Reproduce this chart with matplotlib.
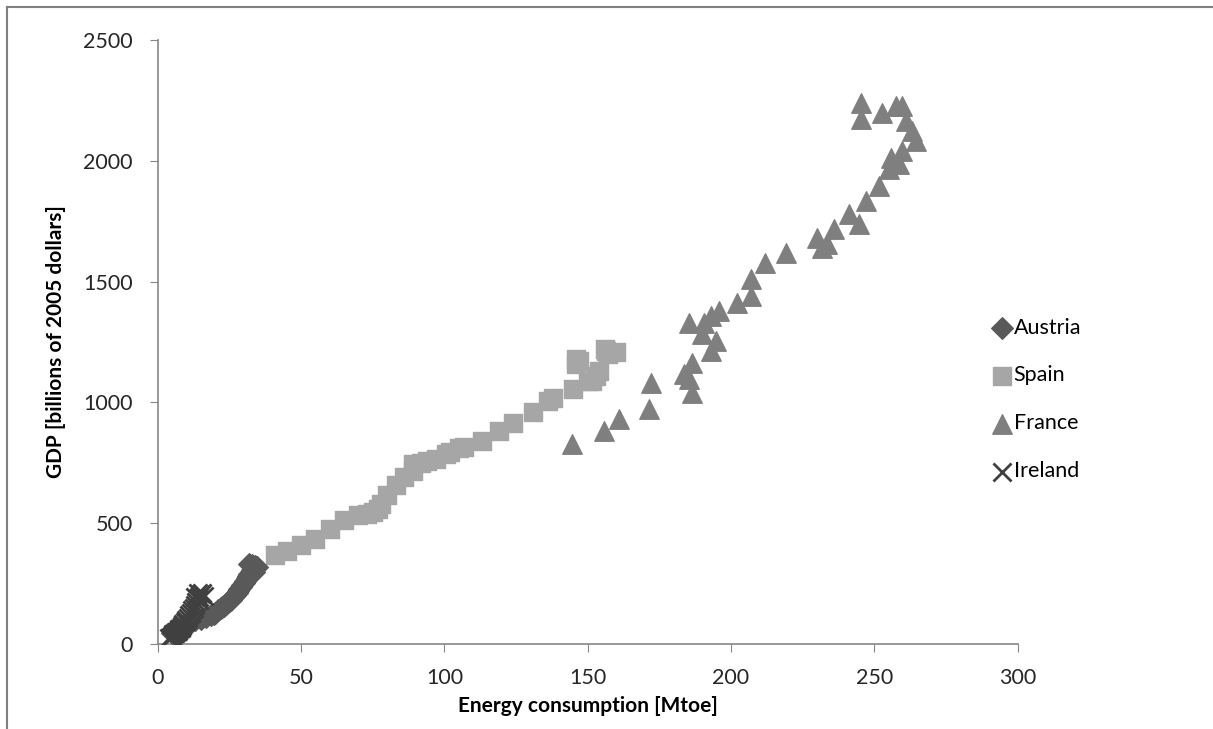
import matplotlib.pyplot as plt
from matplotlib.lines import Line2D

# Energy consumption [Mtoe] vs GDP [billions of 2005 dollars]
austria_energy = [5, 7, 9, 11, 13, 15, 17, 18.5, 19.5, 20, 21, 22, 22.5, 23, 24, 24.5, 25, 25.5,
                  26, 26.5, 27, 27.5, 28, 28.5, 29, 29.5, 30, 30.5, 31, 31.5, 32, 32.5, 33,
                  33.5, 34, 33, 32, 34.5, 33.5]
austria_gdp = [45, 60, 75, 88, 98, 105, 112, 118, 125, 130, 140, 148, 152, 158, 165, 172, 178, 183,
               190, 197, 203, 210, 218, 226, 235, 243, 252, 262, 272, 282, 290, 298, 306,
               315, 322, 328, 330, 318, 300]

spain_energy = [41, 45, 50, 55, 60, 65, 70, 73, 75, 77, 78, 80, 83, 86, 89, 89, 92, 94, 97,
                100.5, 102, 105, 107, 113, 119, 124, 131, 136, 138, 145, 146, 146, 147, 150,
                151.5, 153, 154, 156, 156.5, 157, 160]
spain_gdp = [370, 385, 410, 435, 475, 515, 535, 540, 545, 560, 580, 615, 660, 690, 715, 745, 750,
             757, 765, 786, 795, 811, 815, 840, 880, 915, 962, 1005, 1020, 1055, 1180, 1160,
             1172, 1090, 1089, 1110, 1130, 1220, 1213, 1200, 1210]

france_energy = [144.6, 155.7, 161, 171.4, 172, 183.6, 186.4, 185.4, 186.4, 193, 194.8, 190, 185.4,
                 190.6, 193, 195.8, 202, 207, 207, 212, 219, 230, 231.7, 233.4, 236, 241, 244.6,
                 247, 251.6, 255, 255.7, 258.5, 259.6, 263, 264.5, 261, 259.6, 257.5, 252.6,
                 245.3, 245.3]
france_gdp = [828, 882, 932, 973, 1081, 1118, 1039, 1097, 1163, 1213, 1254, 1283, 1329, 1329, 1358,
              1379, 1412, 1441, 1511, 1577, 1619, 1681, 1639, 1656, 1718, 1780, 1739, 1834, 1896,
              1966, 2012, 1987, 2041, 2124, 2082, 2165, 2227, 2227, 2198, 2240, 2173]

ireland_energy = [4, 4.5, 5, 5.5, 6, 6.5, 7, 7.5, 8, 8.5, 9, 9.5, 10, 10.5, 11, 11.5, 12, 12.5,
                  13, 13.5, 14, 14.5, 15, 15.5, 13, 14, 16, 14.5]
ireland_gdp = [25, 30, 35, 40, 45, 50, 55, 62, 68, 75, 82, 90, 98, 108, 118, 128, 140, 150,
               160, 172, 185, 195, 205, 210, 195, 212, 198, 182]

plt.rcParams['font.family'] = ['Lato', 'DejaVu Sans']

fig = plt.figure(figsize=(12.13, 7.29), dpi=100)
ax = fig.add_axes([0.130, 0.1166, 0.709, 0.8285])

ax.scatter(austria_energy, austria_gdp, marker='D', s=11**2, c='#595959', label='Austria', zorder=3)
ax.scatter(spain_energy, spain_gdp, marker='s', s=13**2, c='#a6a6a6', label='Spain', zorder=2)
ax.scatter(france_energy, france_gdp, marker='^', s=14**2, c='#7f7f7f', label='France', zorder=2)
ax.scatter(ireland_energy, ireland_gdp, marker='x', s=13**2, c='#404040', linewidths=2,
           label='Ireland', zorder=4)

ax.set_xlim(0, 300)
ax.set_ylim(0, 2500)
ax.set_xticks(range(0, 301, 50))
ax.set_yticks(range(0, 2501, 500))
ax.tick_params(labelsize=15.5, color='#868686', length=6, labelcolor='#262626')
ax.tick_params(axis='x', pad=11)
ax.tick_params(axis='y', pad=12)
for side in ['top', 'right']:
    ax.spines[side].set_visible(False)
for side in ['left', 'bottom']:
    ax.spines[side].set_color('#868686')
    ax.spines[side].set_linewidth(1.2)

ax.set_xlabel('Energy consumption [Mtoe]', fontsize=15, fontweight='bold', labelpad=6)
ax.set_ylabel('GDP [billions of 2005 dollars]', fontsize=15, fontweight='bold', labelpad=12)

ax.legend(loc='center left', bbox_to_anchor=(0.801, 0.452), bbox_transform=fig.transFigure,
          frameon=False, fontsize=15.5, labelspacing=1.3, handletextpad=0.05, handlelength=1.0,
          scatterpoints=1)

# thin frame lines on the left and top edges of the image
fig.add_artist(Line2D([0.006, 0.006], [0, 0.99], transform=fig.transFigure, color='#808080', lw=1.5))
fig.add_artist(Line2D([0.006, 1], [0.99, 0.99], transform=fig.transFigure, color='#808080', lw=1.5))

fig.savefig('out.png', dpi=100)
